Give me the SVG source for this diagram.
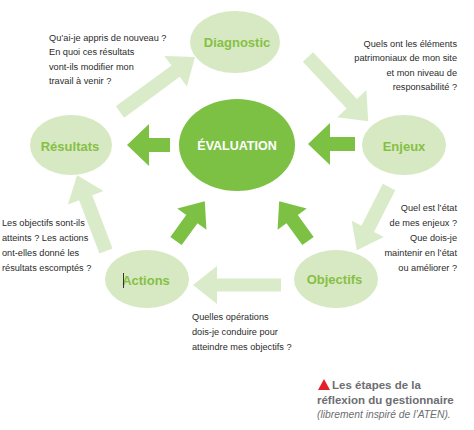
<svg xmlns="http://www.w3.org/2000/svg" width="474" height="430" viewBox="0 0 474 430">
<style>
.bg{fill:#ffffff}
.node{fill:#d7e9c3}
.center{fill:#7cc143}
.la{fill:#d9ebc8}
.da{fill:#7cc143}
.lbl{font-family:"Liberation Sans",Arial,sans-serif;font-weight:bold;font-size:13px;fill:#86c043;text-anchor:middle}
.clbl{font-family:"Liberation Sans",Arial,sans-serif;font-weight:bold;font-size:12.5px;fill:#ffffff;text-anchor:middle}
.q{font-family:"Liberation Sans",Arial,sans-serif;font-size:9.2px;fill:#2b2b2b}
.r{text-anchor:end}
.cap{font-family:"Liberation Sans",Arial,sans-serif;font-weight:bold;font-size:11.5px;fill:#6d6e71}
.capi{font-family:"Liberation Sans",Arial,sans-serif;font-style:italic;font-size:10.3px;fill:#6d6e71}
</style>
<rect class="bg" x="0" y="0" width="474" height="430"/>
<g id="connectors">
  <path class="la" transform="translate(120,112) rotate(-36.25)" d="M0,-7 H69 V-19 L93,0 L69,19 V7 H0 Z"/>
  <path class="la" transform="translate(308,57) rotate(46.85)" d="M0,-7 H64 V-20 L88,0 L64,20 V7 H0 Z"/>
  <path class="la" transform="translate(389,187) rotate(116.9)" d="M0,-7 H47 V-18 L71,0 L47,18 V7 H0 Z"/>
  <path class="la" transform="translate(281,285) rotate(180)" d="M0,-6.5 H64 V-19 L88,0 L64,19 V6.5 H0 Z"/>
  <path class="la" transform="translate(106,251) rotate(-110.9)" d="M0,-7 H57 V-19 L81,0 L57,19 V7 H0 Z"/>
  <path class="da" transform="translate(170,145) rotate(180)" d="M0,-7 H21 V-21 L43,0 L21,21 V7 H0 Z"/>
  <path class="da" transform="translate(355,144) rotate(180)" d="M0,-7 H25 V-21 L47,0 L25,21 V7 H0 Z"/>
  <path class="da" transform="translate(176,241) rotate(-54)" d="M0,-7 H27 V-18 L49,0 L27,18 V7 H0 Z"/>
  <path class="da" transform="translate(308,241) rotate(-126)" d="M0,-7 H27 V-18 L49,0 L27,18 V7 H0 Z"/>
</g>
<g id="diagnostic">
  <ellipse class="node" cx="235" cy="42" rx="45" ry="31"/>
  <text class="lbl" x="237" y="46.5">Diagnostic</text>
</g>
<g id="enjeux">
  <ellipse class="node" cx="404" cy="145" rx="42" ry="30"/>
  <text class="lbl" x="404" y="150.5">Enjeux</text>
</g>
<g id="resultats">
  <ellipse class="node" cx="71" cy="145" rx="41" ry="30"/>
  <text class="lbl" x="70" y="150.5">Résultats</text>
</g>
<g id="actions">
  <ellipse class="node" cx="147" cy="279" rx="42" ry="29"/>
  <text class="lbl" x="146" y="284.5">Actions</text>
  <line x1="123.5" y1="273" x2="123.5" y2="288" stroke="#333333" stroke-width="1"/>
</g>
<g id="objectifs">
  <ellipse class="node" cx="336" cy="279" rx="42" ry="29"/>
  <text class="lbl" x="334.5" y="283.5">Objectifs</text>
</g>
<g id="evaluation">
  <ellipse class="center" cx="237" cy="145" rx="58" ry="46"/>
  <text class="clbl" x="237" y="149.5">ÉVALUATION</text>
</g>
<g id="q-resultats">
  <text class="q" x="49" y="40.5">Qu’ai-je appris de nouveau ?</text>
  <text class="q" x="49" y="55">En quoi ces résultats</text>
  <text class="q" x="49" y="69.5">vont-ils modifier mon</text>
  <text class="q" x="49" y="84">travail à venir ?</text>
</g>
<g id="q-diagnostic">
  <text class="q r" x="457" y="47">Quels ont les éléments</text>
  <text class="q r" x="457" y="61">patrimoniaux de mon site</text>
  <text class="q r" x="457" y="75.5">et mon niveau de</text>
  <text class="q r" x="457" y="90">responsabilité ?</text>
</g>
<g id="q-enjeux">
  <text class="q r" x="457" y="210.5">Quel est l’état</text>
  <text class="q r" x="457" y="225.5">de mes enjeux ?</text>
  <text class="q r" x="457" y="240.5">Que dois-je</text>
  <text class="q r" x="457" y="255.5">maintenir en l’état</text>
  <text class="q r" x="457" y="270.5">ou améliorer ?</text>
</g>
<g id="q-actions">
  <text class="q" x="2" y="225.5">Les objectifs sont-ils</text>
  <text class="q" x="2" y="240.5">atteints ? Les actions</text>
  <text class="q" x="2" y="255.5">ont-elles donné les</text>
  <text class="q" x="2" y="270.5">résultats escomptés ?</text>
</g>
<g id="q-objectifs">
  <text class="q" x="192" y="319.5">Quelles opérations</text>
  <text class="q" x="192" y="334.5">dois-je conduire pour</text>
  <text class="q" x="192" y="349.5">atteindre mes objectifs ?</text>
</g>
<g id="caption">
  <polygon points="318,390 324,379 330,390" fill="#e3202a"/>
  <text class="cap" x="332" y="388.5">Les étapes de la</text>
  <text class="cap" x="317" y="403.5">réflexion du gestionnaire</text>
  <text class="capi" x="317" y="418">(librement inspiré de l’ATEN).</text>
</g>
</svg>
